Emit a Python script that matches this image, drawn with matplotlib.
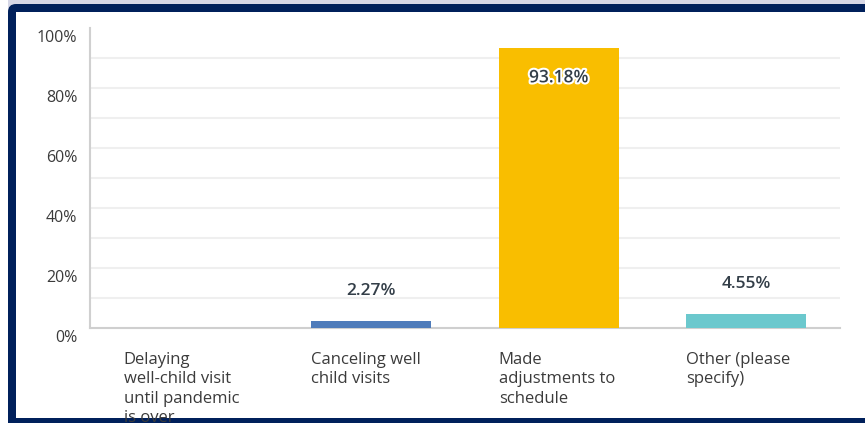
import matplotlib.pyplot as plt
import matplotlib.patheffects as pe
from matplotlib.patches import FancyBboxPatch, Rectangle
from matplotlib.transforms import IdentityTransform, ScaledTranslation

# survey answers and share of respondents (%)
categories = [
    "Delaying\nwell-child visit\nuntil pandemic\nis over",
    "Canceling well\nchild visits",
    "Made\nadjustments to\nschedule",
    "Other (please\nspecify)",
]
values = [0.0, 2.27, 93.18, 4.55]
bar_colors = ["#4f7cba", "#4f7cba", "#f9be00", "#6bc8cd"]
yticks = [0, 20, 40, 60, 80, 100]

plt.rcParams['font.family'] = ['Open Sans', 'DejaVu Sans']

fig = plt.figure(figsize=(8.65, 4.23), dpi=100)
fig.patch.set_facecolor("white")

# navy frame with white panel (display pixels)
halo = Rectangle((8, 411), 900, 12, transform=IdentityTransform(),
                 facecolor="#d6d7e6", edgecolor="none", zorder=-6)
fig.add_artist(halo)
frame = FancyBboxPatch((8, -30), 900, 449, boxstyle="round,pad=0,rounding_size=8",
                       transform=IdentityTransform(), facecolor="#00205b",
                       edgecolor="none", zorder=-5)
fig.add_artist(frame)
panel = Rectangle((16, 5), 900, 406, transform=IdentityTransform(),
                  facecolor="white", edgecolor="none", zorder=-4)
fig.add_artist(panel)

ax = fig.add_axes([90 / 865, 95 / 423, 750 / 865, 300 / 423])
ax.set_facecolor("none")

x = range(len(categories))
bars = ax.bar(x, values, width=0.64, color=bar_colors, zorder=3)
ax.set_xlim(-0.5, len(categories) - 0.5)
ax.set_ylim(0, 100)

ax.set_yticks(yticks)
ax.set_yticklabels([f"{t}%" for t in yticks])
for g in range(10, 100, 10):
    ax.axhline(g, color="#efefef", linewidth=1.5, zorder=0)
ax.tick_params(axis="y", length=0, pad=9, labelsize=11.5, labelcolor="#3b3b3b")
for lbl in ax.get_yticklabels():
    lbl.set_transform(lbl.get_transform() + ScaledTranslation(0, -6 / 72, fig.dpi_scale_trans))

ax.set_xticks([])
for i, cat in enumerate(categories):
    ax.annotate(cat, xy=(i - 0.32, 0), xycoords=("data", "axes fraction"),
                xytext=(0, -17), textcoords="offset points", ha="left", va="top",
                fontsize=12, color="#3b3b3b", linespacing=1.3, annotation_clip=False)

for spine in ["top", "right"]:
    ax.spines[spine].set_visible(False)
ax.spines["left"].set_color("#d0d0d0")
ax.spines["left"].set_linewidth(1.5)
ax.spines["bottom"].set_color("#cfcfcf")
ax.spines["bottom"].set_linewidth(1.5)

for b, v in zip(bars, values):
    if v == 0:
        continue
    cx = b.get_x() + b.get_width() / 2
    if v > 50:
        t = ax.annotate(f"{v:.2f}%", xy=(cx, v), xytext=(0, -21.5), textcoords="offset points",
                        ha="center", va="center", fontsize=12.5, fontweight="semibold", color="#333e48")
        t.set_path_effects([pe.withStroke(linewidth=3, foreground="white")])
    else:
        ax.annotate(f"{v:.2f}%", xy=(cx, v), xytext=(0, 21.5), textcoords="offset points",
                    ha="center", va="center", fontsize=12.5, fontweight="semibold", color="#333e48")

fig.savefig("out.png", dpi=100)
